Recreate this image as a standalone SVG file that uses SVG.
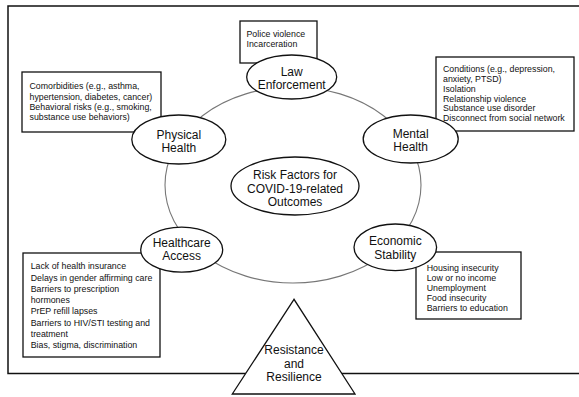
<svg xmlns="http://www.w3.org/2000/svg" width="579" height="397" viewBox="0 0 579 397">
<style>
.box{fill:#fff;stroke:#111;stroke-width:1.3}
.node{fill:#fff;stroke:#111;stroke-width:1.3}
.ring{fill:none;stroke:#777;stroke-width:1.1}
.t{font-family:"Liberation Sans",Arial,sans-serif;font-size:8.8px;fill:#111}
.n{font-family:"Liberation Sans",Arial,sans-serif;font-size:12px;fill:#111;text-anchor:middle}
</style>
<rect x="0" y="0" width="579" height="397" fill="#fff"/>
<rect id="frame" x="8" y="6" width="590" height="367.5" fill="none" stroke="#111" stroke-width="1.5"/>
<g id="connectors">
<ellipse class="ring" cx="293" cy="185" rx="128" ry="98"/>
</g>
<g id="box-law">
<rect class="box" x="240" y="21" width="77" height="42"/>
<text class="t" x="246.5" y="37.2">Police violence</text>
<text class="t" x="246.5" y="46.5">Incarceration</text>
</g>
<g id="box-physical">
<rect class="box" x="22" y="72" width="139" height="60"/>
<text class="t" x="29.5" y="89.2">Comorbidities (e.g., asthma,</text>
<text class="t" x="29.5" y="99.5">hypertension, diabetes, cancer)</text>
<text class="t" x="29.5" y="109.9">Behavioral risks (e.g., smoking,</text>
<text class="t" x="29.5" y="120.2">substance use behaviors)</text>
</g>
<g id="box-mental">
<rect class="box" x="436" y="57" width="138" height="74"/>
<text class="t" x="443" y="72.2">Conditions (e.g., depression,</text>
<text class="t" x="443" y="82">anxiety, PTSD)</text>
<text class="t" x="443" y="91.8">Isolation</text>
<text class="t" x="443" y="101.6">Relationship violence</text>
<text class="t" x="443" y="111.4">Substance use disorder</text>
<text class="t" x="443" y="121.2">Disconnect from social network</text>
</g>
<g id="box-healthcare">
<rect class="box" x="23" y="253" width="137" height="104"/>
<text class="t" x="30.7" y="269.2">Lack of health insurance</text>
<text class="t" x="30.7" y="280.5">Delays in gender affirming care</text>
<text class="t" x="30.7" y="291.8">Barriers to prescription</text>
<text class="t" x="30.7" y="303.1">hormones</text>
<text class="t" x="30.7" y="314.4">PrEP refill lapses</text>
<text class="t" x="30.7" y="325.7">Barriers to HIV/STI testing and</text>
<text class="t" x="30.7" y="337">treatment</text>
<text class="t" x="30.7" y="348.3">Bias, stigma, discrimination</text>
</g>
<g id="box-economic">
<rect class="box" x="416" y="252" width="105" height="67"/>
<text class="t" x="426.7" y="270.9">Housing insecurity</text>
<text class="t" x="426.7" y="280.9">Low or no income</text>
<text class="t" x="426.7" y="290.9">Unemployment</text>
<text class="t" x="426.7" y="300.9">Food insecurity</text>
<text class="t" x="426.7" y="310.9">Barriers to education</text>
</g>
<g id="law">
<ellipse class="node" cx="291.7" cy="77" rx="45" ry="22"/>
<text class="n" x="291.7" y="75.5">Law</text>
<text class="n" x="291.7" y="89">Enforcement</text>
</g>
<g id="physical">
<ellipse class="node" cx="178.8" cy="139.5" rx="47" ry="24.5"/>
<text class="n" x="178.8" y="138.5">Physical</text>
<text class="n" x="178.8" y="151.5">Health</text>
</g>
<g id="mental">
<ellipse class="node" cx="410.7" cy="139" rx="47.5" ry="24"/>
<text class="n" x="410.7" y="137.8">Mental</text>
<text class="n" x="410.7" y="150.8">Health</text>
</g>
<g id="healthcare">
<ellipse class="node" cx="181.7" cy="249.7" rx="41" ry="22.5"/>
<text class="n" x="181.7" y="246.5">Healthcare</text>
<text class="n" x="181.7" y="259.8">Access</text>
</g>
<g id="economic">
<ellipse class="node" cx="395.3" cy="247.3" rx="41.3" ry="23.3"/>
<text class="n" x="395.3" y="245.3">Economic</text>
<text class="n" x="395.3" y="258.6">Stability</text>
</g>
<g id="center">
<ellipse class="node" cx="295" cy="186" rx="64" ry="29"/>
<text class="n" x="295" y="179.3">Risk Factors for</text>
<text class="n" x="295" y="192.6">COVID-19-related</text>
<text class="n" x="295" y="206">Outcomes</text>
</g>
<g id="resilience">
<polygon class="node" points="294,299.3 232.3,394 355,394"/>
<text class="n" x="294" y="354.2">Resistance</text>
<text class="n" x="294" y="367.5">and</text>
<text class="n" x="294" y="380.9">Resilience</text>
</g>
</svg>
